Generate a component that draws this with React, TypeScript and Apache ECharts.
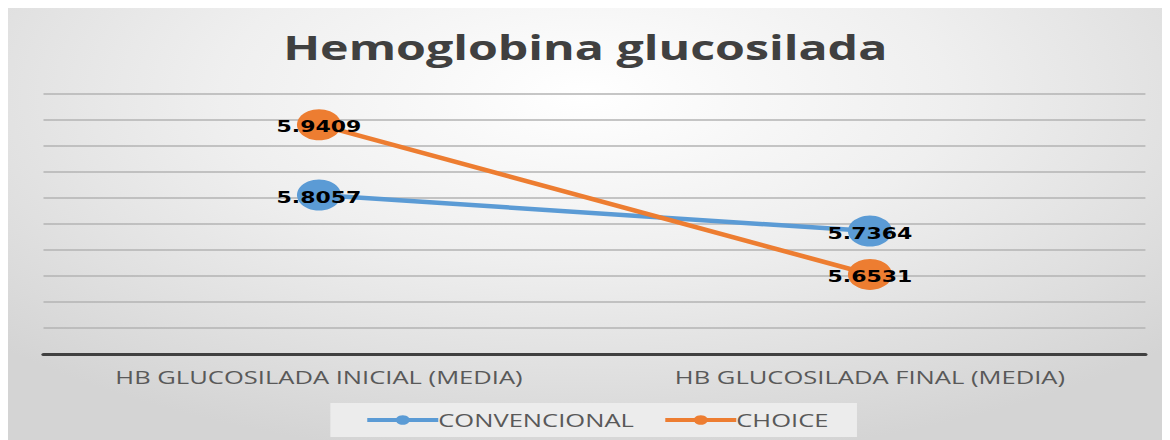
import React, { useEffect, useRef } from "react";
import * as echarts from "echarts";

const categories = ["HB GLUCOSILADA INICIAL (MEDIA)", "HB GLUCOSILADA FINAL (MEDIA)"];
const convencional = [5.8057, 5.7364];
const choice = [5.9409, 5.6531];
const seriesNames = ["CONVENCIONAL", "CHOICE"];
const titleText = "Hemoglobina glucosilada";

const STRETCH = 1.42;
const OUTER_W = 1154;
const OUTER_H = 432;
const INNER_W = Math.round(OUTER_W / STRETCH);

export default function App() {
  const ref = useRef<HTMLDivElement>(null);
  useEffect(() => {
    if (!ref.current) return;
    const chart = echarts.init(ref.current, null, { renderer: "svg" });
    const label = {
      show: true,
      position: "inside",
      offset: [0, 2],
      color: "#000000",
      fontFamily: "DejaVu Sans",
      fontWeight: "bold",
      fontSize: 15.5,
      formatter: (p: any) => p.value.toFixed(4),
    };
    chart.setOption({
      animation: false,
      title: {
        text: titleText,
        left: "center",
        top: 17,
        textStyle: { fontFamily: "Open Sans", fontWeight: "bold", fontSize: 34, color: "#404040" },
      },
      legend: {
        bottom: 3,
        left: 227,
        backgroundColor: "#ececec",
        padding: [8, 20, 8, 24],
        itemWidth: 50,
        itemHeight: 12,
        itemGap: 20,
        lineStyle: { width: 4 },
        textStyle: { fontFamily: "Open Sans", fontSize: 18, color: "#595959", padding: [0, 0, 0, -5] },
        data: seriesNames,
      },
      grid: { left: 25, right: 12, top: 86, bottom: 86 },
      xAxis: {
        type: "category",
        data: categories,
        boundaryGap: true,
        axisLine: { lineStyle: { color: "#404040", width: 3 } },
        axisTick: { show: false },
        axisLabel: { fontFamily: "Open Sans", fontSize: 18, color: "#595959", margin: 14 },
      },
      yAxis: {
        type: "value",
        min: 5.5,
        max: 6.0,
        interval: 0.05,
        axisLabel: { show: false },
        axisLine: { show: false },
        axisTick: { show: false },
        splitLine: { lineStyle: { color: "#b3b3b3", width: 1.5 } },
      },
      series: [
        {
          name: seriesNames[0],
          type: "line",
          data: convencional,
          symbol: "circle",
          symbolSize: 31,
          itemStyle: { color: "#5B9BD5" },
          lineStyle: { color: "#5B9BD5", width: 4.5 },
          label,
          z: 2,
        },
        {
          name: seriesNames[1],
          type: "line",
          data: choice,
          symbol: "circle",
          symbolSize: 31,
          itemStyle: { color: "#ED7D31" },
          lineStyle: { color: "#ED7D31", width: 4.5 },
          label,
          z: 3,
        },
      ],
    });
    return () => chart.dispose();
  }, []);
  return (
    <div
      style={{
        width: OUTER_W,
        height: OUTER_H,
        overflow: "hidden",
        background:
          "radial-gradient(ellipse 70% 85% at 50% 20%, #ffffff 0%, #efefef 45%, #d4d4d4 100%)",
      }}
    >
      <div
        ref={ref}
        style={{
          width: INNER_W,
          height: OUTER_H,
          transform: `scaleX(${STRETCH})`,
          transformOrigin: "0 0",
        }}
      />
    </div>
  );
}
